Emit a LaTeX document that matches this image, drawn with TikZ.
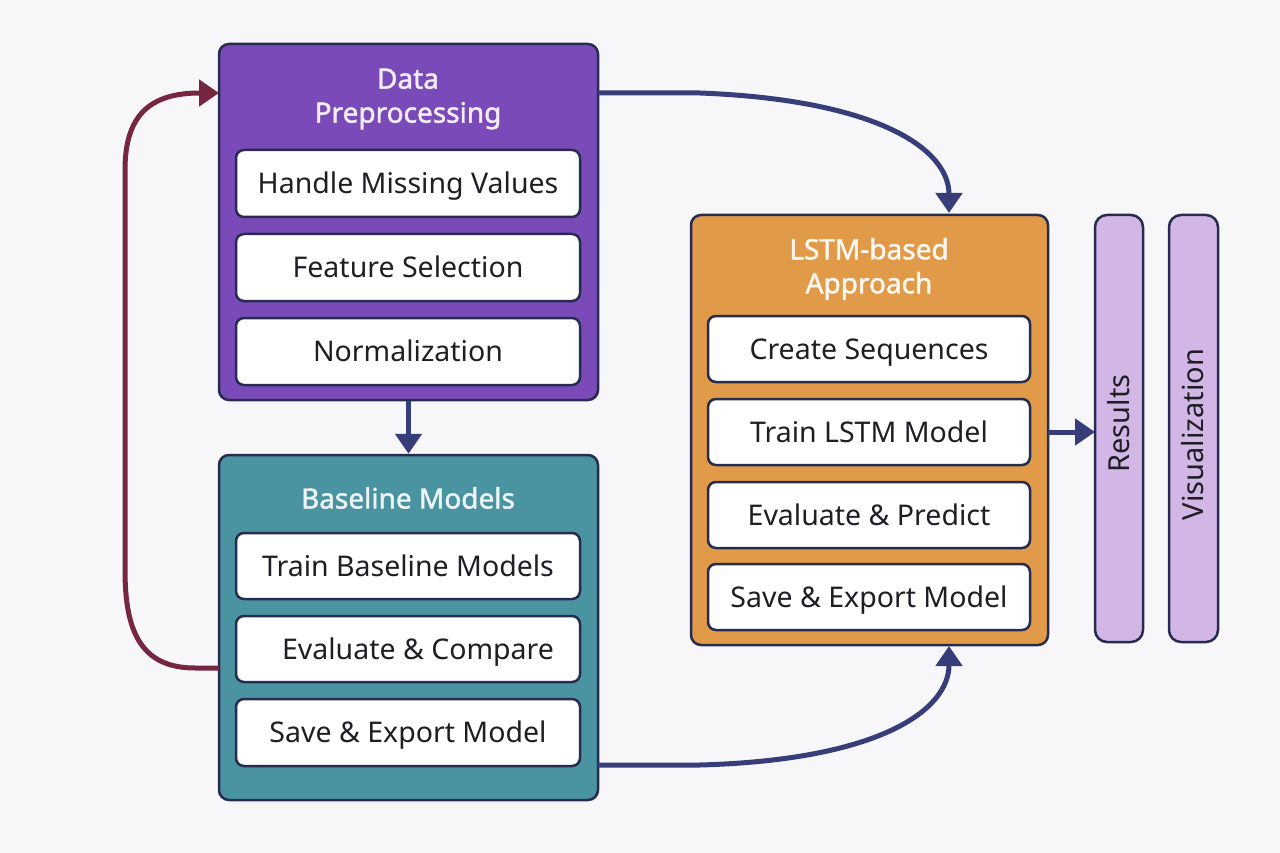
\documentclass[tikz,border=0pt]{standalone}
\usepackage{fontspec}
\setmainfont{Noto Sans}
\newfontfamily\ttlfont{Noto Sans}[FakeBold=1.6]
\usetikzlibrary{arrows.meta,positioning}
\definecolor{bgc}{HTML}{F7F7F9}
\definecolor{purp}{HTML}{7A4BB8}
\definecolor{teal}{HTML}{4A93A0}
\definecolor{oran}{HTML}{E09A48}
\definecolor{lila}{HTML}{D2B6E6}
\definecolor{edge}{HTML}{262B50}
\definecolor{arr}{HTML}{363D78}
\definecolor{maro}{HTML}{772640}
\definecolor{txt}{HTML}{1E1E24}
\begin{document}
\begin{tikzpicture}[x=1pt,y=-1pt,
  outer/.style={draw=edge,line width=2.5pt,rounded corners=10pt,inner sep=0pt},
  inbox/.style={draw=edge,fill=white,line width=2.5pt,rounded corners=8pt,inner sep=0pt,
     font=\fontsize{28.5}{34}\selectfont,text=txt},
  intext/.style={inner sep=0pt,text height=20pt,text depth=0pt,
     font=\fontsize{28.5}{34}\selectfont,text=txt},
  ttl/.style={font=\fontsize{28}{34}\ttlfont,align=center,text=#1},
  vbar/.style={draw=edge,fill=lila,line width=2.5pt,rounded corners=12pt,inner sep=0pt},
  vtxt/.style={font=\fontsize{29}{34}\selectfont,text=txt,rotate=90,inner sep=0pt,text height=20pt,text depth=0pt},
  flow/.style={draw=arr,line width=5pt,-{Triangle[width=26pt,length=20pt]}},
  loop/.style={draw=maro,line width=5pt,-{Triangle[width=26pt,length=20pt]}}
]
\fill[bgc] (0,0) rectangle (1280,853);
\useasboundingbox (0,0) rectangle (1280,853);

% Data Preprocessing
\node[outer,fill=purp,minimum width=379pt,minimum height=356pt] (dp) at (408.5,222) {};
\node[ttl=white!90!purp] (dpt) at (408,99) {Data\\Preprocessing};
\node[inbox,minimum width=344pt,minimum height=67pt] (hm) at (408,183.5) {};
\node[intext] at (hm.center) {Handle Missing Values};
\node[inbox,minimum width=344pt,minimum height=67pt] (fs) at (408,267.5) {};
\node[intext] at (fs.center) {Feature Selection};
\node[inbox,minimum width=344pt,minimum height=67pt] (nm) at (408,351.5) {};
\node[intext] at (nm.center) {Normalization};

% Baseline Models
\node[outer,fill=teal,minimum width=379pt,minimum height=345pt] (bm) at (408.5,627.5) {};
\node[ttl=white!90!teal] (bmt) at (408,498) {Baseline Models};
\node[inbox,minimum width=344pt,minimum height=66pt] (tb) at (408,566) {};
\node[intext] at (tb.center) {Train Baseline Models};
\node[inbox,minimum width=344pt,minimum height=66pt] (ec) at (408,649) {};
\node[intext,xshift=10pt] at (ec.center) {Evaluate \& Compare};
\node[inbox,minimum width=344pt,minimum height=67pt] (sb) at (408,732.5) {};
\node[intext] at (sb.center) {Save \& Export Model};

% LSTM
\node[outer,fill=oran,minimum width=357pt,minimum height=430pt] (ls) at (869.5,430) {};
\node[ttl=white!92!oran] (lst) at (869,269) {LSTM-based\\Approach};
\node[inbox,minimum width=322pt,minimum height=66pt] (cs) at (869,349) {};
\node[intext] at (cs.center) {Create Sequences};
\node[inbox,minimum width=322pt,minimum height=66pt] (tl) at (869,432) {};
\node[intext] at (tl.center) {Train LSTM Model};
\node[inbox,minimum width=322pt,minimum height=66pt] (ep) at (869,515) {};
\node[intext] at (ep.center) {Evaluate \& Predict};
\node[inbox,minimum width=322pt,minimum height=66pt] (sl) at (869,597) {};
\node[intext] at (sl.center) {Save \& Export Model};

% Results / Visualization
\node[vbar,minimum width=48pt,minimum height=427pt] (res) at (1119,428.5) {};
\node[vtxt] at ([yshift=5pt]res.center) {Results};
\node[vbar,minimum width=49pt,minimum height=427pt] (vis) at (1193.5,428.5) {};
\node[vtxt] at ([yshift=-6pt]vis.center) {Visualization};

% connectors
\coordinate (dpr) at (598,93);
\coordinate (bmr) at (598,765);
\coordinate (bml) at (219,668);
\coordinate (dpl) at (219,93);
\coordinate (lsr) at (1048,432);
\coordinate (resl) at (1095,432);
\draw[flow] (dp.south) -- (bm.north);
\draw[flow] (dpr) -- (700,93) .. controls (880,100) and (949,150) .. (949,213);
\draw[flow] (bmr) -- (700,765) .. controls (880,760) and (949,710) .. (949,646);
\draw[flow] (lsr) -- (resl);
\draw[loop] (bml) -- (195,668) .. controls (140,668) and (125,630) .. (125,570) -- (125,170)
   .. controls (125,115) and (150,93) .. (200,93) -- (dpl);
\end{tikzpicture}
\end{document}
